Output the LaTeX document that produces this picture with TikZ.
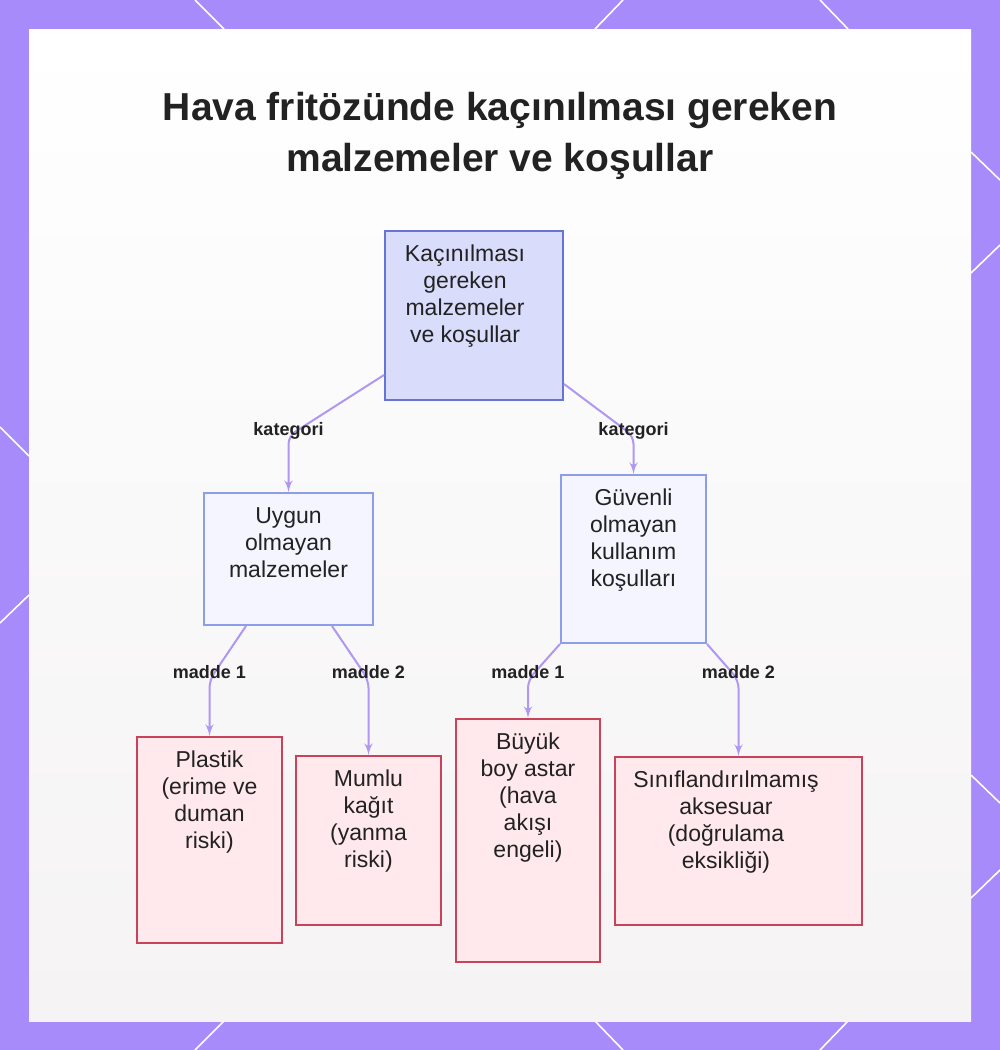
\documentclass[tikz,border=0pt]{standalone}
\usepackage{fontspec}
\setmainfont{Liberation Sans}
\usetikzlibrary{arrows}

\definecolor{framecol}{HTML}{A78BFA}
\definecolor{panelbot}{HTML}{F5F3F3}
\definecolor{txt}{HTML}{222222}
\definecolor{rootfill}{HTML}{D9DCFB}
\definecolor{rootline}{HTML}{6675D4}
\definecolor{midfill}{HTML}{F4F5FF}
\definecolor{midline}{HTML}{8C9DEA}
\definecolor{leaffill}{HTML}{FFE9EC}
\definecolor{leafline}{HTML}{C8435A}
\definecolor{linkcol}{HTML}{AF97F2}

% text at the top of a fixed box: [right margin]{width}{height}{lines}
\newcommand{\boxtext}[4][0pt]{\parbox[c][#3][t]{#2}{\centering\rightskip=#1 plus 1fil\vspace*{4pt}\rule{0pt}{11pt}#4}}

\begin{document}
\begin{tikzpicture}[x=.5pt,y=-.5pt,inner sep=0pt,>=latex',
  box/.style={draw,line width=1pt,text=txt,font=\fontsize{11.5}{13.5}\selectfont},
  rootbox/.style={box,draw=rootline,fill=rootfill},
  midbox/.style={box,draw=midline,fill=midfill},
  leafbox/.style={box,draw=leafline,fill=leaffill},
  link/.style={->,draw=linkcol,line width=1pt,rounded corners=4pt},
  lbl/.style={text=txt,font=\bfseries\fontsize{9}{10}\selectfont},
  deco/.style={white,line width=.8pt}]
\useasboundingbox (0,0) rectangle (1000,1050);
\fill[framecol] (0,0) rectangle (1000,1050);
\foreach \xa/\ya/\xb/\yb in {195/0/224/29, 623/0/595/29, 820/0/848/29,
    224/1021/195/1050, 595/1021/623/1050, 848/1021/820/1050,
    0/427/29/456, 29/595/0/623,
    971/152/1000/180, 1000/245/971/273, 971/775/1000/803, 1000/870/971/898}
  \draw[deco] (\xa,\ya) -- (\xb,\yb);
\fill[top color=white,bottom color=panelbot] (29,29) rectangle (971,1021);

\node[anchor=north,align=center,text=txt,font=\bfseries\fontsize{19.5}{25.5}\selectfont] (title) at (500,91.5)
  {Hava fritözünde kaçınılması gereken\\malzemeler ve koşullar};

\node[rootbox] (root) at (474,315.5) {\boxtext[9pt]{89pt}{84.5pt}{Kaçınılması\\gereken\\malzemeler\\ve koşullar}};
\node[midbox] (uygun) at (288.5,559) {\boxtext{84.5pt}{66pt}{Uygun\\olmayan\\malzemeler}};
\node[midbox] (guvenli) at (633.5,559) {\boxtext{72.5pt}{84pt}{Güvenli\\olmayan\\kullanım\\koşulları}};
\node[leafbox] (plastik) at (209.5,840) {\boxtext{72.5pt}{103pt}{Plastik\\(erime ve\\duman\\riski)}};
\node[leafbox] (mumlu) at (368.5,840.5) {\boxtext{72.5pt}{84.5pt}{Mumlu\\kağıt\\(yanma\\riski)}};
\node[leafbox] (buyuk) at (528,840.5) {\boxtext{72pt}{121.5pt}{Büyük\\boy astar\\(hava\\akışı\\engeli)}};
\node[leafbox] (sinif) at (738.5,841) {\boxtext[12.5pt]{123.5pt}{84pt}{Sınıflandırılmamış\\aksesuar\\(doğrulama\\eksikliği)}};

\draw[link] ([yshift=13pt]root.south west) -- (uygun.north |- 0,436) node[lbl,yshift=2.5pt] (kat1) {kategori} -- (uygun.north);
\draw[link] ([yshift=8.5pt]root.south east) -- (guvenli.north |- 0,436) node[lbl,yshift=2.5pt] (kat2) {kategori} -- (guvenli.north);
\draw[link] ([xshift=-21.25pt]uygun.south) -- (plastik.north |- 0,680) node[lbl,yshift=4pt] (mad11) {madde 1} -- (plastik.north);
\draw[link] ([xshift=21.75pt]uygun.south) -- (mumlu.north |- 0,680) node[lbl,yshift=4pt] (mad12) {madde 2} -- (mumlu.north);
\draw[link] (guvenli.south west) -- (buyuk.north |- 0,680) node[lbl,yshift=4pt] (mad21) {madde 1} -- (buyuk.north);
\draw[link] (guvenli.south east) -- (sinif.north |- 0,680) node[lbl,yshift=4pt] (mad22) {madde 2} -- (sinif.north);
\end{tikzpicture}
\end{document}
